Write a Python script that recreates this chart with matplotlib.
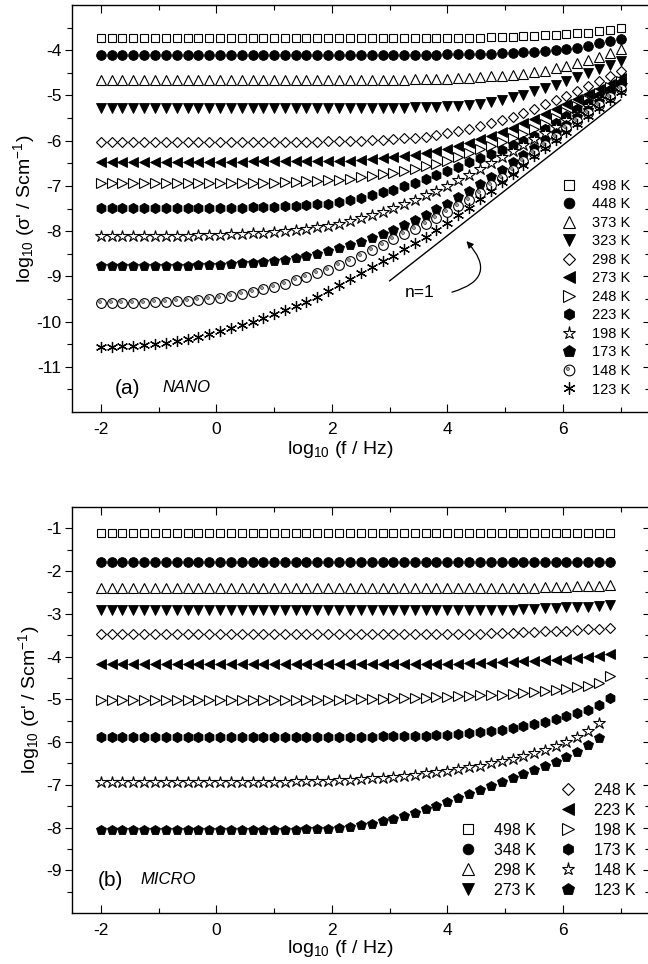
import matplotlib
matplotlib.use('Agg')
import matplotlib.pyplot as plt
from matplotlib.path import Path
from matplotlib.patches import FancyArrowPatch
from matplotlib.ticker import FixedLocator

plt.rcParams.update({
    'font.family': ['Liberation Sans', 'DejaVu Sans'],
    'axes.unicode_minus': False,
    'mathtext.fontset': 'custom',
    'mathtext.rm': 'Liberation Sans',
    'mathtext.it': 'Liberation Sans:italic',
    'mathtext.bf': 'Liberation Sans:bold',
})

# ---------------- data ----------------
log_f = [-2.0, -1.81, -1.63, -1.44, -1.25, -1.06, -0.88,
         -0.69, -0.5, -0.31, -0.13, 0.06, 0.25, 0.44,
         0.63, 0.81, 1.0, 1.19, 1.38, 1.56, 1.75,
         1.94, 2.13, 2.31, 2.5, 2.69, 2.88, 3.06,
         3.25, 3.44, 3.63, 3.81, 4.0, 4.19, 4.38,
         4.56, 4.75, 4.94, 5.13, 5.31, 5.5, 5.69,
         5.88, 6.06, 6.25, 6.44, 6.63, 6.81, 7.0]

# (a) NANO, log10 sigma'
nano_498 = [-3.74, -3.74, -3.74, -3.74, -3.74, -3.74, -3.74,
            -3.74, -3.74, -3.74, -3.74, -3.74, -3.74, -3.74,
            -3.74, -3.74, -3.74, -3.74, -3.74, -3.74, -3.74,
            -3.74, -3.74, -3.74, -3.74, -3.74, -3.74, -3.74,
            -3.74, -3.74, -3.74, -3.73, -3.73, -3.73, -3.72,
            -3.72, -3.71, -3.71, -3.70, -3.69, -3.69, -3.67,
            -3.66, -3.65, -3.63, -3.61, -3.58, -3.55, -3.51]
nano_448 = [-4.10, -4.10, -4.10, -4.10, -4.10, -4.10, -4.10,
            -4.10, -4.10, -4.10, -4.10, -4.10, -4.10, -4.10,
            -4.10, -4.10, -4.10, -4.10, -4.10, -4.10, -4.10,
            -4.10, -4.10, -4.10, -4.10, -4.10, -4.10, -4.10,
            -4.10, -4.10, -4.10, -4.10, -4.09, -4.09, -4.09,
            -4.08, -4.08, -4.07, -4.06, -4.05, -4.04, -4.02,
            -4.00, -3.97, -3.94, -3.90, -3.85, -3.80, -3.75]
nano_373 = [-4.65, -4.65, -4.65, -4.65, -4.65, -4.65, -4.65,
            -4.65, -4.65, -4.65, -4.65, -4.65, -4.65, -4.65,
            -4.65, -4.65, -4.65, -4.65, -4.65, -4.65, -4.65,
            -4.65, -4.65, -4.65, -4.65, -4.65, -4.65, -4.65,
            -4.65, -4.64, -4.64, -4.64, -4.63, -4.62, -4.61,
            -4.60, -4.58, -4.57, -4.55, -4.52, -4.49, -4.45,
            -4.40, -4.35, -4.29, -4.22, -4.15, -4.07, -3.98]
nano_323 = [-5.27, -5.27, -5.27, -5.27, -5.27, -5.27, -5.27,
            -5.27, -5.27, -5.27, -5.27, -5.27, -5.27, -5.27,
            -5.27, -5.27, -5.27, -5.27, -5.27, -5.27, -5.27,
            -5.27, -5.27, -5.27, -5.27, -5.27, -5.27, -5.27,
            -5.27, -5.26, -5.26, -5.25, -5.24, -5.23, -5.21,
            -5.19, -5.15, -5.10, -5.04, -4.98, -4.91, -4.84,
            -4.76, -4.68, -4.60, -4.51, -4.42, -4.33, -4.23]
nano_298 = [-6.03, -6.03, -6.03, -6.03, -6.03, -6.03, -6.03,
            -6.03, -6.03, -6.03, -6.03, -6.03, -6.03, -6.03,
            -6.03, -6.03, -6.03, -6.03, -6.02, -6.02, -6.02,
            -6.01, -6.01, -6.00, -6.00, -5.99, -5.98, -5.97,
            -5.95, -5.93, -5.91, -5.88, -5.84, -5.79, -5.74,
            -5.68, -5.62, -5.55, -5.47, -5.38, -5.29, -5.20,
            -5.11, -5.01, -4.90, -4.80, -4.69, -4.58, -4.47]
nano_273 = [-6.47, -6.47, -6.47, -6.47, -6.47, -6.47, -6.47,
            -6.47, -6.47, -6.47, -6.47, -6.47, -6.47, -6.47,
            -6.46, -6.46, -6.46, -6.46, -6.46, -6.46, -6.45,
            -6.45, -6.45, -6.44, -6.43, -6.41, -6.39, -6.37,
            -6.34, -6.31, -6.27, -6.23, -6.18, -6.11, -6.05,
            -5.97, -5.89, -5.81, -5.72, -5.62, -5.52, -5.41,
            -5.30, -5.18, -5.08, -4.97, -4.85, -4.74, -4.62]
nano_248 = [-6.94, -6.94, -6.94, -6.94, -6.94, -6.94, -6.94,
            -6.94, -6.94, -6.94, -6.94, -6.94, -6.94, -6.94,
            -6.94, -6.93, -6.93, -6.92, -6.91, -6.90, -6.89,
            -6.88, -6.86, -6.84, -6.81, -6.78, -6.74, -6.71,
            -6.66, -6.62, -6.57, -6.51, -6.45, -6.37, -6.28,
            -6.19, -6.11, -6.03, -5.94, -5.85, -5.75, -5.63,
            -5.50, -5.37, -5.23, -5.09, -4.95, -4.81, -4.67]
nano_223 = [-7.49, -7.49, -7.49, -7.49, -7.49, -7.49, -7.49,
            -7.49, -7.49, -7.49, -7.49, -7.49, -7.48, -7.48,
            -7.47, -7.47, -7.46, -7.45, -7.44, -7.42, -7.41,
            -7.39, -7.36, -7.32, -7.27, -7.21, -7.14, -7.08,
            -7.00, -6.93, -6.85, -6.76, -6.68, -6.58, -6.48,
            -6.39, -6.30, -6.20, -6.10, -6.00, -5.90, -5.75,
            -5.60, -5.45, -5.31, -5.17, -5.02, -4.87, -4.72]
nano_198 = [-8.11, -8.11, -8.11, -8.11, -8.11, -8.11, -8.10,
            -8.10, -8.10, -8.09, -8.09, -8.08, -8.07, -8.06,
            -8.05, -8.04, -8.02, -8.00, -7.98, -7.95, -7.92,
            -7.89, -7.84, -7.78, -7.72, -7.65, -7.57, -7.49,
            -7.40, -7.31, -7.21, -7.11, -7.00, -6.87, -6.75,
            -6.62, -6.49, -6.36, -6.23, -6.10, -5.97, -5.83,
            -5.69, -5.55, -5.40, -5.24, -5.08, -4.92, -4.76]
nano_173 = [-8.77, -8.77, -8.77, -8.77, -8.77, -8.77, -8.77,
            -8.77, -8.77, -8.76, -8.75, -8.74, -8.73, -8.71,
            -8.70, -8.68, -8.66, -8.63, -8.59, -8.55, -8.50,
            -8.45, -8.38, -8.31, -8.24, -8.15, -8.06, -7.97,
            -7.86, -7.76, -7.65, -7.52, -7.40, -7.25, -7.11,
            -6.96, -6.80, -6.64, -6.48, -6.32, -6.16, -5.99,
            -5.82, -5.65, -5.48, -5.32, -5.14, -4.97, -4.80]
nano_148 = [-9.58, -9.58, -9.58, -9.58, -9.58, -9.57, -9.56,
            -9.55, -9.54, -9.52, -9.50, -9.47, -9.43, -9.39,
            -9.34, -9.29, -9.23, -9.16, -9.09, -9.02, -8.93,
            -8.85, -8.75, -8.65, -8.54, -8.42, -8.30, -8.18,
            -8.07, -7.96, -7.84, -7.71, -7.58, -7.45, -7.31,
            -7.16, -6.99, -6.82, -6.64, -6.46, -6.28, -6.10,
            -5.91, -5.73, -5.56, -5.39, -5.21, -5.03, -4.85]
nano_123 = [-10.56, -10.56, -10.55, -10.54, -10.52, -10.50, -10.47,
            -10.43, -10.39, -10.34, -10.28, -10.21, -10.14, -10.07,
            -10.00, -9.92, -9.84, -9.75, -9.66, -9.56, -9.45,
            -9.33, -9.19, -9.06, -8.93, -8.80, -8.67, -8.54,
            -8.40, -8.26, -8.12, -7.97, -7.82, -7.65, -7.48,
            -7.30, -7.11, -6.92, -6.73, -6.53, -6.34, -6.16,
            -5.98, -5.80, -5.63, -5.46, -5.28, -5.10, -4.92]

# (b) MICRO
micro_498 = [-1.12, -1.12, -1.12, -1.12, -1.12, -1.12, -1.12, -1.12,
             -1.12, -1.12, -1.12, -1.12, -1.12, -1.12, -1.12, -1.12,
             -1.12, -1.12, -1.12, -1.12, -1.12, -1.12, -1.12, -1.12,
             -1.12, -1.12, -1.12, -1.12, -1.12, -1.12, -1.12, -1.12,
             -1.12, -1.12, -1.12, -1.12, -1.12, -1.12, -1.12, -1.12,
             -1.12, -1.12, -1.12, -1.12, -1.12, -1.12, -1.12, -1.12]
micro_348 = [-1.79, -1.79, -1.79, -1.79, -1.79, -1.79, -1.79, -1.79,
             -1.79, -1.79, -1.79, -1.79, -1.79, -1.79, -1.79, -1.79,
             -1.79, -1.79, -1.79, -1.79, -1.79, -1.79, -1.79, -1.79,
             -1.79, -1.79, -1.79, -1.79, -1.79, -1.79, -1.79, -1.79,
             -1.79, -1.79, -1.79, -1.79, -1.79, -1.79, -1.79, -1.79,
             -1.79, -1.79, -1.79, -1.79, -1.79, -1.79, -1.79, -1.78]
micro_298 = [-2.39, -2.39, -2.39, -2.39, -2.39, -2.39, -2.39, -2.39,
             -2.39, -2.39, -2.39, -2.39, -2.39, -2.39, -2.39, -2.39,
             -2.39, -2.39, -2.39, -2.39, -2.39, -2.39, -2.39, -2.39,
             -2.39, -2.39, -2.39, -2.39, -2.39, -2.39, -2.39, -2.39,
             -2.39, -2.39, -2.39, -2.39, -2.39, -2.39, -2.39, -2.39,
             -2.39, -2.38, -2.38, -2.37, -2.36, -2.36, -2.35, -2.33]
micro_273 = [-2.92, -2.92, -2.92, -2.92, -2.92, -2.92, -2.92, -2.92,
             -2.92, -2.92, -2.92, -2.92, -2.92, -2.92, -2.92, -2.92,
             -2.92, -2.92, -2.92, -2.92, -2.92, -2.92, -2.92, -2.92,
             -2.92, -2.92, -2.92, -2.92, -2.92, -2.92, -2.92, -2.92,
             -2.92, -2.92, -2.92, -2.91, -2.91, -2.90, -2.90, -2.89,
             -2.88, -2.87, -2.86, -2.85, -2.84, -2.83, -2.82, -2.80]
micro_248 = [-3.48, -3.48, -3.48, -3.48, -3.48, -3.48, -3.48, -3.48,
             -3.48, -3.48, -3.48, -3.48, -3.48, -3.48, -3.48, -3.48,
             -3.48, -3.48, -3.48, -3.48, -3.48, -3.48, -3.48, -3.48,
             -3.48, -3.48, -3.48, -3.48, -3.48, -3.48, -3.48, -3.48,
             -3.48, -3.47, -3.47, -3.46, -3.45, -3.45, -3.44, -3.43,
             -3.42, -3.41, -3.40, -3.39, -3.38, -3.36, -3.35, -3.33]
micro_223 = [-4.18, -4.18, -4.18, -4.18, -4.18, -4.18, -4.18, -4.18,
             -4.18, -4.18, -4.18, -4.18, -4.18, -4.18, -4.18, -4.18,
             -4.18, -4.18, -4.18, -4.18, -4.18, -4.18, -4.18, -4.18,
             -4.18, -4.18, -4.18, -4.18, -4.18, -4.18, -4.18, -4.18,
             -4.17, -4.17, -4.16, -4.15, -4.14, -4.13, -4.12, -4.11,
             -4.10, -4.08, -4.07, -4.05, -4.03, -4.01, -3.98, -3.95]
micro_198 = [-5.01, -5.01, -5.01, -5.01, -5.01, -5.01, -5.01, -5.01,
             -5.01, -5.01, -5.01, -5.01, -5.01, -5.01, -5.01, -5.01,
             -5.01, -5.01, -5.01, -5.01, -5.01, -5.01, -5.01, -5.00,
             -5.00, -4.99, -4.99, -4.98, -4.98, -4.97, -4.96, -4.95,
             -4.94, -4.93, -4.92, -4.91, -4.90, -4.89, -4.87, -4.85,
             -4.83, -4.81, -4.79, -4.76, -4.72, -4.68, -4.62, -4.46]
micro_173 = [-5.88, -5.88, -5.88, -5.88, -5.88, -5.88, -5.88, -5.88,
             -5.88, -5.88, -5.88, -5.88, -5.88, -5.88, -5.88, -5.88,
             -5.88, -5.88, -5.88, -5.88, -5.88, -5.88, -5.88, -5.88,
             -5.88, -5.88, -5.87, -5.87, -5.86, -5.86, -5.85, -5.84,
             -5.83, -5.81, -5.79, -5.77, -5.74, -5.71, -5.67, -5.63,
             -5.58, -5.53, -5.47, -5.40, -5.33, -5.24, -5.14, -4.96]
micro_148 = [-6.93, -6.93, -6.93, -6.93, -6.93, -6.93, -6.93, -6.93,
             -6.93, -6.93, -6.93, -6.93, -6.93, -6.93, -6.93, -6.93,
             -6.93, -6.93, -6.92, -6.92, -6.91, -6.90, -6.89, -6.88,
             -6.87, -6.85, -6.83, -6.81, -6.79, -6.76, -6.73, -6.70,
             -6.67, -6.63, -6.59, -6.55, -6.50, -6.45, -6.39, -6.33,
             -6.26, -6.19, -6.10, -6.00, -5.88, -5.74, -5.56]
micro_123 = [-8.06, -8.06, -8.06, -8.06, -8.06, -8.06, -8.06, -8.06,
             -8.06, -8.06, -8.06, -8.06, -8.06, -8.06, -8.06, -8.06,
             -8.06, -8.05, -8.05, -8.04, -8.04, -8.03, -8.01, -7.99,
             -7.95, -7.91, -7.85, -7.79, -7.72, -7.65, -7.57, -7.49,
             -7.40, -7.31, -7.22, -7.13, -7.03, -6.94, -6.85, -6.75,
             -6.66, -6.56, -6.46, -6.36, -6.23, -6.08, -5.90]

nano_labels = ['498 K', '448 K', '373 K', '323 K', '298 K', '273 K',
               '248 K', '223 K', '198 K', '173 K', '148 K', '123 K']
nano_series = [nano_498, nano_448, nano_373, nano_323, nano_298, nano_273,
               nano_248, nano_223, nano_198, nano_173, nano_148, nano_123]
micro_labels = ['498 K', '348 K', '298 K', '273 K', '248 K',
                '223 K', '198 K', '173 K', '148 K', '123 K']
micro_series = [micro_498, micro_348, micro_298, micro_273, micro_248,
                micro_223, micro_198, micro_173, micro_148, micro_123]

n1_x = [3.0, 7.0]
n1_y = [-9.1, -5.1]

x_major = [-2, 0, 2, 4, 6]
x_minor = [-1, 1, 3, 5, 7]
nano_y_major = [-11, -10, -9, -8, -7, -6, -5, -4]
nano_y_minor = [-11.5, -10.5, -9.5, -8.5, -7.5, -6.5, -5.5, -4.5, -3.5]
micro_y_major = [-9, -8, -7, -6, -5, -4, -3, -2, -1]
micro_y_minor = [-9.5, -8.5, -7.5, -6.5, -5.5, -4.5, -3.5, -2.5, -1.5]

# ---------------- styles ----------------
nano_styles = [('s', False, 6.3), ('o', True, 7.0), ('^', False, 7.4), ('v', True, 7.4),
               ('D', False, 5.6), ('<', True, 7.4), ('>', False, 7.4), ('h', True, 7.4),
               ('*', False, 8.6), ('p', True, 7.8), ('ring', False, 7.0), ('ast', False, 8.0)]
micro_styles = [('s', False, 6.0), ('o', True, 7.0), ('^', False, 7.4), ('v', True, 7.4),
                ('D', False, 5.6), ('<', True, 7.4), ('>', False, 7.4), ('h', True, 7.4),
                ('*', False, 8.6), ('p', True, 7.8)]

_small = Path.circle(center=(-0.3, 0.3), radius=0.3)
dot_marker = Path([(1.0, 1.0)] + list(_small.vertices),
                  [Path.MOVETO] + list(_small.codes))
AST = (6, 2, 0)


def plot_series(ax, x, y, style):
    m, filled, ms = style
    xx = x[:len(y)]
    if m == 'ring':
        l1, = ax.plot(xx, y, ls='none', marker='o', ms=ms, mfc='white',
                      mec='black', mew=0.8)
        l2, = ax.plot(xx, y, ls='none', marker=dot_marker, ms=ms, mfc='0.65',
                      mec='0.25', mew=0.5)
        return (l1, l2)
    if m == 'ast':
        l, = ax.plot(xx, y, ls='none', marker=AST, ms=ms, mec='black', mew=0.9)
        return l
    l, = ax.plot(xx, y, ls='none', marker=m, ms=ms,
                 mfc='black' if filled else 'white', mec='black',
                 mew=0.6 if filled else 0.8)
    return l


def style_axes(ax, ymaj, ymin_, ylim):
    ax.set_xlim(-2.5, 7.5)
    ax.set_ylim(*ylim)
    ax.xaxis.set_major_locator(FixedLocator(x_major))
    ax.xaxis.set_minor_locator(FixedLocator(x_minor))
    ax.yaxis.set_major_locator(FixedLocator(ymaj))
    ax.yaxis.set_minor_locator(FixedLocator(ymin_))
    ax.tick_params(axis='x', which='both', direction='in', top=True, bottom=True,
                   labelsize=12.5, pad=7, width=0.8)
    ax.tick_params(axis='x', which='major', length=5.5)
    ax.tick_params(axis='x', which='minor', length=3.5)
    ax.tick_params(axis='y', which='both', direction='out', left=True, right=False,
                   labelsize=12.5, pad=2.5, width=0.8)
    ax.tick_params(axis='y', which='major', length=5)
    ax.tick_params(axis='y', which='minor', length=3.5)
    for s in ax.spines.values():
        s.set_linewidth(1.0)
    sec = ax.secondary_yaxis('right')
    sec.yaxis.set_major_locator(FixedLocator(ymaj))
    sec.yaxis.set_minor_locator(FixedLocator(ymin_))
    sec.tick_params(which='both', direction='in', labelright=False, width=0.8)
    sec.tick_params(which='major', length=5)
    sec.tick_params(which='minor', length=3.5)


W, H = 648.0, 964.0
fig = plt.figure(figsize=(6.48, 9.64), dpi=100)


def px_axes(l, t, r, b):
    return fig.add_axes([l / W, 1 - b / H, (r - l) / W, (b - t) / H])


ax1 = px_axes(72, 5, 649.5, 412)
ax2 = px_axes(72, 507, 649.5, 913)

YLABEL = "log$_{10}$ (σ' / Scm$^{-1}$)"
XLABEL = 'log$_{10}$ (f / Hz)'

# ---- panel (a)
h1 = [plot_series(ax1, log_f, y, st) for y, st in zip(nano_series, nano_styles)]
ax1.plot(n1_x, n1_y, color='black', lw=1.0)
ax1.text(3.26, -9.35, 'n=1', fontsize=12.5, ha='left', va='center')
arr = FancyArrowPatch(posA=(4.08, -9.35), posB=(4.33, -8.22),
                      connectionstyle='arc3,rad=0.8', arrowstyle='-|>',
                      mutation_scale=10, lw=0.9, color='black',
                      shrinkA=0, shrinkB=0)
ax1.add_patch(arr)
style_axes(ax1, nano_y_major, nano_y_minor, (-12, -3))
ax1.set_xlabel(XLABEL, fontsize=14)
ax1.xaxis.set_label_coords((340 - 72) / 577.5, (412 - 439) / 407)
ax1.set_ylabel(YLABEL, fontsize=14)
ax1.yaxis.set_label_coords((37 - 72) / 577.5, 0.5)
ax1.text((115 - 72) / 577.5, (412 - 388) / 407, '(a)', transform=ax1.transAxes,
         fontsize=15, ha='left', va='center')
ax1.text((162 - 72) / 577.5, (412 - 387) / 407, 'NANO', transform=ax1.transAxes,
         fontsize=12, style='italic', ha='left', va='center')
ax1.legend(h1, nano_labels, loc='upper left', bbox_to_anchor=(0.848, 0.573),
           frameon=False, fontsize=10.5, handlelength=1.0, handletextpad=1.1,
           labelspacing=0.31, borderpad=0, borderaxespad=0, numpoints=1,
           markerscale=1.1)

# ---- panel (b)
h2 = [plot_series(ax2, log_f, y, st) for y, st in zip(micro_series, micro_styles)]
style_axes(ax2, micro_y_major, micro_y_minor, (-10, -0.5))
ax2.set_xlabel(XLABEL, fontsize=14)
ax2.xaxis.set_label_coords((340 - 72) / 577.5, (913 - 938) / 406)
ax2.set_ylabel(YLABEL, fontsize=14)
ax2.yaxis.set_label_coords((42 - 72) / 577.5, (913 - 700) / 406)
ax2.text((98 - 72) / 577.5, (913 - 880) / 406, '(b)', transform=ax2.transAxes,
         fontsize=15, ha='left', va='center')
ax2.text((140 - 72) / 577.5, (913 - 880) / 406, 'MICRO', transform=ax2.transAxes,
         fontsize=12, style='italic', ha='left', va='center')
leg_r = ax2.legend(h2[4:], micro_labels[4:], loc='upper left',
                   bbox_to_anchor=(0.845, 0.3206), frameon=False, fontsize=11.5,
                   handlelength=1.0, handletextpad=1.15, labelspacing=0.31,
                   borderpad=0, borderaxespad=0, numpoints=1, markerscale=1.1)
ax2.add_artist(leg_r)
ax2.legend(h2[:4], micro_labels[:4], loc='upper left',
           bbox_to_anchor=(0.672, 0.2223), frameon=False, fontsize=11.5,
           handlelength=1.0, handletextpad=1.15, labelspacing=0.31,
           borderpad=0, borderaxespad=0, numpoints=1, markerscale=1.1)

fig.savefig('out.png', dpi=100)
